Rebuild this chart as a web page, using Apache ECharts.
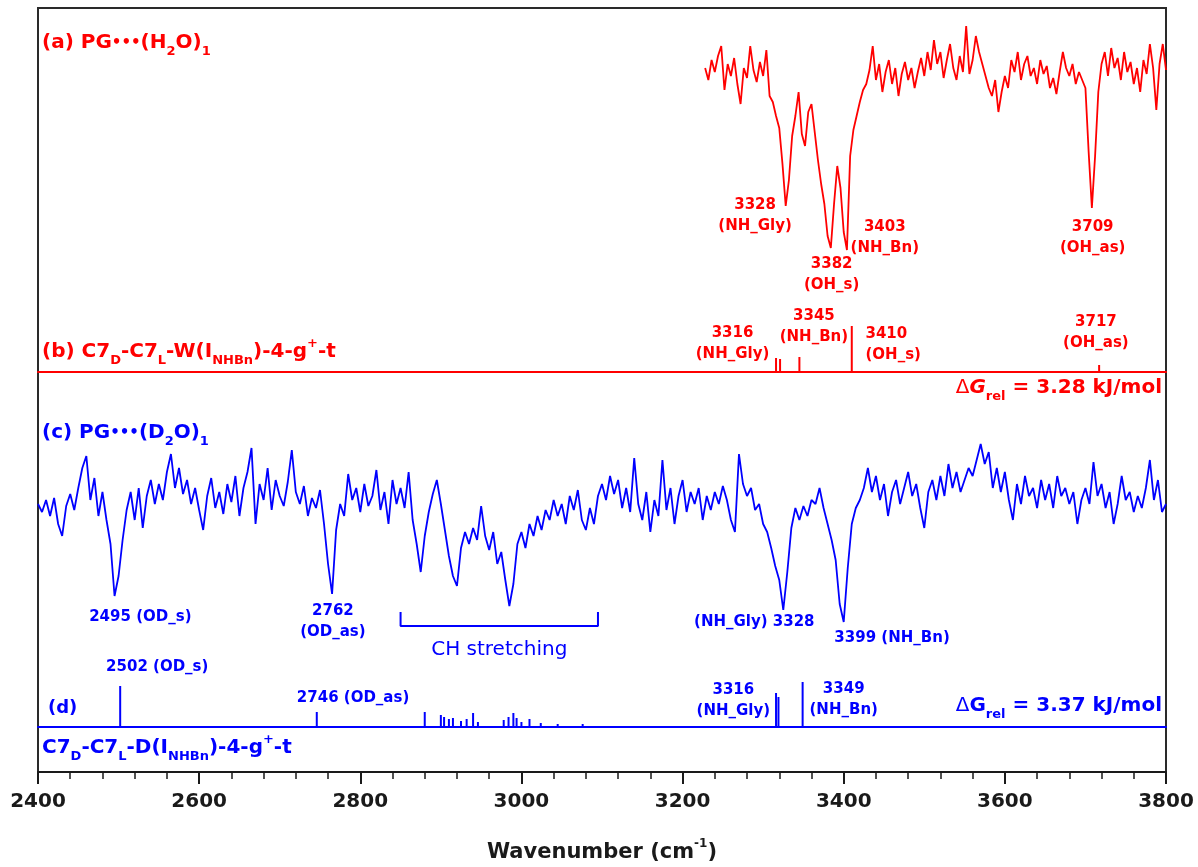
<!DOCTYPE html>
<html>
<head>
<meta charset="utf-8">
<title>PG-water IR spectra</title>
<script src="https://cdn.jsdelivr.net/npm/echarts@6/dist/echarts.min.js"></script>
<style>
  html, body { margin: 0; padding: 0; background: #fff; }
  #chart { width: 1198px; height: 867px; }
</style>
</head>
<body>
<div id="chart"></div>
<script>
const RED = '#ff0000';
const BLUE = '#0000ff';
const FONT = 'DejaVu Sans';

// (a) PG...(H2O)1 experimental trace, one value every 4 cm-1 from 3228
const h2oStart = 3228;
const h2oStep = 4;
const h2oTrace = [
  96, 90, 100, 94, 102, 107, 85, 98, 92, 101,
  88, 78, 96, 91, 107, 95, 89, 99, 92, 105,
  82, 79, 72, 66, 48, 27, 40, 62, 72, 84,
  63, 57, 74, 78, 64, 50, 38, 28, 12, 6,
  28, 47, 36, 14, 5, 52, 65, 72, 79, 85,
  88, 95, 107, 90, 98, 84, 94, 100, 88, 96,
  82, 93, 99, 90, 96, 86, 94, 101, 92, 104,
  95, 110, 98, 104, 91, 100, 108, 96, 90, 102,
  94, 117, 93, 100, 112, 104, 98, 92, 86, 82,
  90, 74, 84, 92, 86, 100, 94, 104, 90, 98,
  102, 92, 96, 88, 100, 93, 97, 86, 91, 83,
  94, 104, 96, 92, 98, 88, 94, 90, 86, 54,
  26, 52, 84, 98, 104, 92, 106, 96, 101, 90,
  104, 94, 99, 88, 96, 84, 100, 93, 108, 96,
  75, 98, 108, 95
];

// (c) PG...(D2O)1 experimental trace, one value every 5 cm-1 from 2400
const d2oStart = 2400;
const d2oStep = 5;
const d2oTrace = [
  58, 54, 60, 52, 61, 48, 42, 57, 63, 55, 66, 76, 82, 60, 71, 52, 64, 50, 38, 12,
  22, 40, 55, 64, 50, 66, 46, 62, 70, 58, 68, 60, 74, 83, 66, 76, 63, 70, 58, 66,
  55, 45, 62, 71, 56, 64, 53, 68, 59, 72, 52, 66, 74, 86, 48, 68, 60, 76, 55, 70,
  62, 57, 69, 85, 64, 58, 67, 52, 61, 56, 65, 48, 28, 13, 45, 58, 52, 73, 60, 66,
  54, 68, 57, 62, 75, 55, 64, 48, 70, 58, 66, 56, 74, 50, 38, 24, 42, 54, 63, 70,
  58, 45, 32, 22, 17, 36, 44, 38, 46, 40, 57, 42, 35, 44, 28, 34, 20, 7, 18, 38,
  44, 36, 48, 42, 52, 45, 55, 50, 60, 52, 58, 48, 62, 55, 65, 50, 45, 56, 48, 62,
  68, 60, 72, 63, 70, 56, 66, 54, 81, 58, 50, 64, 44, 60, 52, 80, 55, 66, 48, 62,
  70, 54, 64, 58, 66, 50, 62, 55, 64, 58, 67, 60, 50, 44, 83, 68, 62, 66, 55, 58,
  48, 44, 36, 27, 20, 5, 24, 46, 56, 50, 57, 52, 60, 58, 66, 56, 48, 40, 30, 8,
  -1, 26, 48, 56, 60, 66, 76, 64, 72, 60, 68, 52, 64, 70, 58, 66, 74, 62, 68, 56,
  46, 64, 70, 60, 72, 62, 78, 66, 74, 64, 70, 76, 72, 80, 88, 78, 84, 66, 76, 64,
  74, 60, 50, 68, 58, 72, 62, 66, 56, 70, 60, 68, 56, 72, 62, 66, 58, 64, 48, 60,
  66, 58, 79, 62, 68, 56, 64, 48, 58, 72, 60, 64, 54, 62, 56, 66, 80, 60, 70, 54, 58
];

// (b) calculated C7D-C7L-W(INHBn)-4-g+-t sticks
const calcWFreq = [3316, 3321, 3345, 3410, 3717];
const calcWInt = [14, 13, 15, 46, 7];

// (d) calculated C7D-C7L-D(INHBn)-4-g+-t sticks
const calcDFreq = [2502, 2746, 2880, 2900, 2904, 2910, 2915, 2925, 2932, 2940, 2946,
                   2978, 2984, 2990, 2994, 3000, 3010, 3024, 3045, 3076, 3316, 3319, 3349];
const calcDInt = [41, 15, 15, 12, 10, 8, 9, 6, 8, 14, 5,
                  7, 10, 14, 9, 5, 8, 4, 3, 3, 34, 30, 45];

// CH stretching bracket, wavenumber ends
const chBracket = [2850, 3095];

// peak annotations: anchor wavenumber, anchor height in panel units, text
const notesA = [
  {wn: 3290, v: 22, text: '3328\n(NH_Gly)'},
  {wn: 3385, v: -7.5, text: '3382\n(OH_s)'},
  {wn: 3451, v: 11, text: '3403\n(NH_Bn)'},
  {wn: 3709, v: 11, text: '3709\n(OH_as)'}
];
const notesB = [
  {wn: 3262, v: 28, text: '3316\n(NH_Gly)'},
  {wn: 3363, v: 45, text: '3345\n(NH_Bn)'},
  {wn: 3427, v: 27, text: '3410\n(OH_s)', align: 'left'},
  {wn: 3713, v: 39, text: '3717\n(OH_as)'}
];
const notesC = [
  {wn: 2527, v: 1.5, text: '2495 (OD_s)'},
  {wn: 2766, v: -1, text: '2762\n(OD_as)'},
  {wn: 3289, v: -1, text: '(NH_Gly) 3328'},
  {wn: 3460, v: -9, text: '3399 (NH_Bn)'}
];
const notesD = [
  {wn: 2548, v: 60, text: '2502 (OD_s)'},
  {wn: 2791, v: 29, text: '2746 (OD_as)'},
  {wn: 3263, v: 26, text: '3316\n(NH_Gly)'},
  {wn: 3400, v: 27, text: '3349\n(NH_Bn)'}
];

function trace(start, step, vals) {
  return vals.map((v, i) => [start + i * step, v]);
}
function sticks(freq, ints) {
  return freq.map((f, i) => [f, ints[i]]);
}

function titleRich(size, color) {
  const base = {fontFamily: FONT, fontWeight: 'bold', fill: color};
  const sub = Math.round(size * 0.65);
  return {
    t: Object.assign({fontSize: size, lineHeight: size + 10}, base),
    n: Object.assign({fontSize: size, lineHeight: size + 10}, base, {fontWeight: 'normal'}),
    it: Object.assign({fontSize: size, lineHeight: size + 10, fontStyle: 'italic'}, base),
    sub: Object.assign({fontSize: sub, lineHeight: sub + 2, verticalAlign: 'bottom'}, base),
    sup: Object.assign({fontSize: sub, lineHeight: sub + 2, verticalAlign: 'top'}, base),
    dot: Object.assign({fontSize: Math.round(size * 0.75), lineHeight: size + 10}, base)
  };
}

function titleText(x, y, text, size, color, align) {
  return {
    type: 'text', x: x, y: y, silent: true,
    style: {
      text: text, rich: titleRich(size, color), fontFamily: FONT, fontSize: size,
      fontWeight: 'bold', fill: color, align: align || 'left', verticalAlign: 'middle'
    }
  };
}

function noteSeries(notes, idx, color, size) {
  return {
    type: 'scatter', xAxisIndex: idx, yAxisIndex: idx, symbolSize: 0, silent: true, clip: false,
    itemStyle: {opacity: 1},
    data: notes.map(n => ({
      name: n.text, value: [n.wn, n.v],
      label: n.align ? {align: n.align} : {}
    })),
    label: {
      show: true, position: 'inside', formatter: p => p.name, opacity: 1,
      color: color, fontFamily: FONT, fontWeight: 'bold', fontSize: size, lineHeight: 21
    }
  };
}

const chart = echarts.init(document.getElementById('chart'));

const hiddenX = (grid, lineColor) => ({
  type: 'value', gridIndex: grid, min: 2400, max: 3800,
  axisLine: {show: !!lineColor, onZero: false, lineStyle: {color: lineColor || '#000', width: 2}},
  axisTick: {show: false}, axisLabel: {show: false}, splitLine: {show: false}
});
const hiddenY = (grid, min, max) => ({
  type: 'value', gridIndex: grid, min: min, max: max, show: false, splitLine: {show: false}
});
const panel = (top, height) => ({left: 38, right: 32, top: top, height: height, outerBoundsMode: 'none'});

chart.setOption({
  animation: false,
  backgroundColor: '#fff',
  grid: [
    {left: 38, right: 32, top: 8, bottom: 95, show: true, borderColor: '#2a2a2a', borderWidth: 2,
     outerBoundsMode: 'none', containLabel: false},
    panel(20, 280),
    panel(300, 72),
    panel(400, 260),
    panel(660, 67)
  ],
  xAxis: [
    {
      type: 'value', gridIndex: 0, min: 2400, max: 3800, interval: 200,
      axisLine: {lineStyle: {color: '#1a1a1a', width: 2}},
      axisTick: {length: 12, lineStyle: {color: '#1a1a1a', width: 2}},
      minorTick: {show: true, splitNumber: 5, length: 7, lineStyle: {color: '#1a1a1a', width: 1.5}},
      axisLabel: {
        fontFamily: FONT, fontSize: 20, fontWeight: 'bold', color: '#1a1a1a', margin: 20,
        formatter: v => String(v)
      },
      splitLine: {show: false},
      name: '{t|Wavenumber (cm}{s|-1}{t|)}',
      nameLocation: 'middle', nameGap: 66,
      nameTextStyle: {
        rich: {
          t: {fontFamily: FONT, fontSize: 21, fontWeight: 'bold', color: '#1a1a1a', lineHeight: 30},
          s: {fontFamily: FONT, fontSize: 12, fontWeight: 'bold', color: '#1a1a1a', lineHeight: 14, verticalAlign: 'top'}
        }
      }
    },
    hiddenX(1),
    hiddenX(2, RED),
    hiddenX(3),
    hiddenX(4, BLUE)
  ],
  yAxis: [
    hiddenY(0, 0, 1),
    hiddenY(1, -20, 120),
    hiddenY(2, 0, 72),
    hiddenY(3, -20, 110),
    hiddenY(4, 0, 67)
  ],
  series: [
    {
      type: 'line', xAxisIndex: 1, yAxisIndex: 1, data: trace(h2oStart, h2oStep, h2oTrace),
      showSymbol: false, lineStyle: {color: RED, width: 1.8}, silent: true
    },
    {
      type: 'bar', xAxisIndex: 2, yAxisIndex: 2, data: sticks(calcWFreq, calcWInt),
      barWidth: 2, itemStyle: {color: RED}, silent: true
    },
    {
      type: 'line', xAxisIndex: 3, yAxisIndex: 3, data: trace(d2oStart, d2oStep, d2oTrace),
      showSymbol: false, lineStyle: {color: BLUE, width: 1.8}, silent: true
    },
    {
      type: 'line', xAxisIndex: 3, yAxisIndex: 3, silent: true, showSymbol: false,
      data: [[chBracket[0], 4], [chBracket[0], -3], [chBracket[1], -3], [chBracket[1], 4]],
      lineStyle: {color: BLUE, width: 2},
      markPoint: {
        symbolSize: 0, silent: true,
        data: [{coord: [(chBracket[0] + chBracket[1]) / 2, -15]}],
        label: {show: true, formatter: 'CH stretching', color: BLUE, fontFamily: FONT, fontSize: 20}
      }
    },
    {
      type: 'bar', xAxisIndex: 4, yAxisIndex: 4, data: sticks(calcDFreq, calcDInt),
      barWidth: 2, itemStyle: {color: BLUE}, silent: true
    },
    noteSeries(notesA, 1, RED, 15),
    noteSeries(notesB, 2, RED, 15),
    noteSeries(notesC, 3, BLUE, 15),
    noteSeries(notesD, 4, BLUE, 15)
  ],
  graphic: [
    titleText(42, 43, '{t|(a) PG}{dot|•••}{t|(H}{sub|2}{t|O)}{sub|1}', 20, RED),
    titleText(42, 352, '{t|(b) C7}{sub|D}{t|-C7}{sub|L}{t|-W(I}{sub|NHBn}{t|)-4-g}{sup|+}{t|-t}', 20, RED),
    titleText(1162, 388, '{n|Δ}{it|G}{sub|rel}{t| = 3.28 kJ/mol}', 20, RED, 'right'),
    titleText(42, 433, '{t|(c) PG}{dot|•••}{t|(D}{sub|2}{t|O)}{sub|1}', 20, BLUE),
    titleText(48, 708, '{t|(d)}', 18, BLUE),
    titleText(1162, 706, '{n|Δ}{t|G}{sub|rel}{t| = 3.37 kJ/mol}', 20, BLUE, 'right'),
    titleText(42, 748, '{t|C7}{sub|D}{t|-C7}{sub|L}{t|-D(I}{sub|NHBn}{t|)-4-g}{sup|+}{t|-t}', 20, BLUE)
  ]
});

window.addEventListener('resize', function () {
  chart.resize();
});
</script>
</body>
</html>
